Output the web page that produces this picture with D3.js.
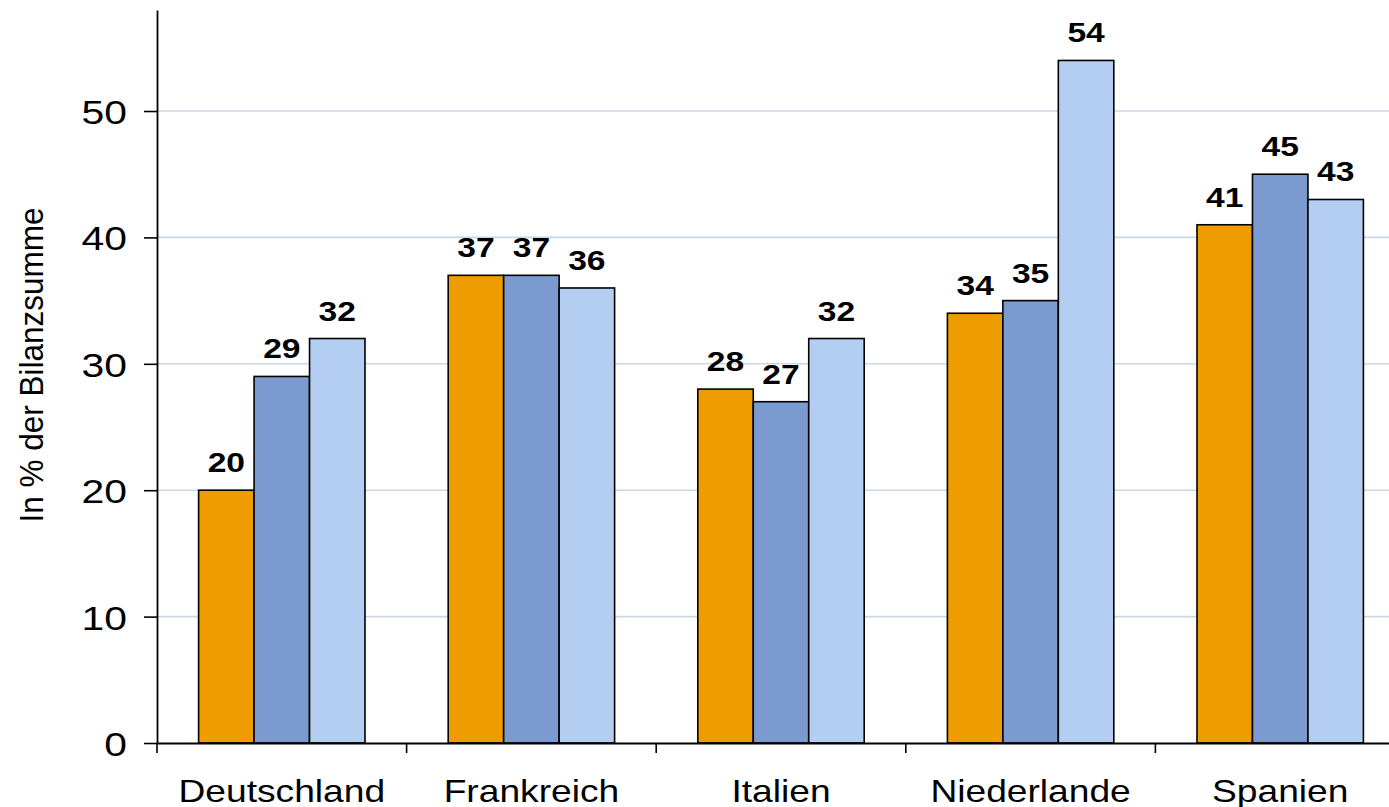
<!DOCTYPE html>
<html>
<head>
<meta charset="utf-8">
<script src="https://cdn.jsdelivr.net/npm/d3@7"></script>
<style>
  html, body { margin: 0; padding: 0; background: #fff; }
  svg { display: block; font-family: "Liberation Sans", Arial, Helvetica, sans-serif; }
</style>
</head>
<body>
<svg id="chart" width="1389" height="807"></svg>
<script>
// Länder und Werte (in % der Bilanzsumme), drei Reihen je Land
const categories = ["Deutschland", "Frankreich", "Italien", "Niederlande", "Spanien"];
const seriesKeys = ["s1", "s2", "s3"];
const series1 = [20, 37, 28, 34, 41];
const series2 = [29, 37, 27, 35, 45];
const series3 = [32, 36, 32, 54, 43];
const yTicks = [0, 10, 20, 30, 40, 50];
const yTitle = "In % der Bilanzsumme";
const colors = ["#EE9C00", "#7B9BD0", "#B4CEF1"];

const rows = categories.map((c, i) => ({
  category: c,
  values: [series1[i], series2[i], series3[i]]
}));

const svg = d3.select("#chart");
const plotLeft = 157, plotRight = 1405, plotTop = 10, plotBottom = 743;

const x = d3.scaleBand().domain(categories).range([plotLeft, plotRight]).paddingInner(0).paddingOuter(0);
const bw = x.bandwidth();
const xInner = d3.scaleBand().domain(seriesKeys).range([bw / 6, bw * 5 / 6]).padding(0);
const y = d3.scaleLinear().domain([0, 58]).range([plotBottom, plotTop - 0.1]);

// Gitterlinien
svg.append("g")
  .selectAll("line")
  .data(yTicks.filter(t => t > 0))
  .join("line")
  .attr("x1", plotLeft).attr("x2", plotRight)
  .attr("y1", d => y(d)).attr("y2", d => y(d))
  .attr("stroke", "#C7D8E5")
  .attr("stroke-width", 1.6);

// Balken
const groups = svg.append("g")
  .selectAll("g")
  .data(rows)
  .join("g")
  .attr("transform", d => `translate(${x(d.category)},0)`);

groups.selectAll("rect")
  .data(d => d.values.map((v, j) => ({ key: seriesKeys[j], value: v, j })))
  .join("rect")
  .attr("x", d => xInner(d.key))
  .attr("width", xInner.bandwidth())
  .attr("y", d => y(d.value))
  .attr("height", d => y(0) - y(d.value))
  .attr("fill", d => colors[d.j])
  .attr("stroke", "#000")
  .attr("stroke-width", 1.6);

// Wertbeschriftungen
groups.selectAll("text.val")
  .data(d => d.values.map((v, j) => ({ key: seriesKeys[j], value: v })))
  .join("text")
  .attr("class", "val")
  .attr("transform", d => `translate(${xInner(d.key) + xInner.bandwidth() / 2},${y(d.value) - 18}) scale(1.2,1)`)
  .attr("text-anchor", "middle")
  .attr("font-size", 28)
  .attr("font-weight", "bold")
  .attr("fill", "#000")
  .text(d => d3.format("d")(d.value));

// y-Achse
const yAxis = svg.append("g")
  .attr("transform", `translate(${plotLeft},0)`)
  .call(d3.axisLeft(y).tickValues(yTicks).tickSize(13).tickSizeOuter(0).tickFormat(d3.format("d")));
yAxis.select(".domain").attr("stroke", "#000").attr("stroke-width", 1.8);
yAxis.selectAll(".tick line").attr("stroke", "#000").attr("stroke-width", 1.6);
yAxis.selectAll(".tick text")
  .attr("x", null).attr("dy", null)
  .attr("transform", "translate(-30,12.5) scale(1.22,1)")
  .attr("text-anchor", "end")
  .attr("font-size", 33.5)
  .attr("font-family", null)
  .attr("fill", "#000");

// x-Achse
const xAxis = svg.append("g")
  .attr("transform", `translate(0,${plotBottom})`)
  .call(d3.axisBottom(x).tickSize(0).tickSizeOuter(0));
xAxis.select(".domain").attr("stroke", "#000").attr("stroke-width", 1.8);
xAxis.selectAll(".tick text")
  .attr("y", null).attr("dy", null)
  .attr("transform", "translate(0,59) scale(1.18,1)")
  .attr("text-anchor", "middle")
  .attr("font-size", 31.5)
  .attr("font-family", null)
  .attr("fill", "#000");

// Trennstriche zwischen den Ländern
xAxis.append("g")
  .selectAll("line")
  .data(categories)
  .join("line")
  .attr("x1", d => x(d)).attr("x2", d => x(d))
  .attr("y1", 0).attr("y2", 10)
  .attr("stroke", "#000")
  .attr("stroke-width", 1.6);

// Achsentitel
svg.append("text")
  .attr("transform", "translate(43,365) scale(1.08,1) rotate(-90)")
  .attr("text-anchor", "middle")
  .attr("font-size", 31.5)
  .attr("fill", "#000")
  .text(yTitle);
</script>
</body>
</html>
